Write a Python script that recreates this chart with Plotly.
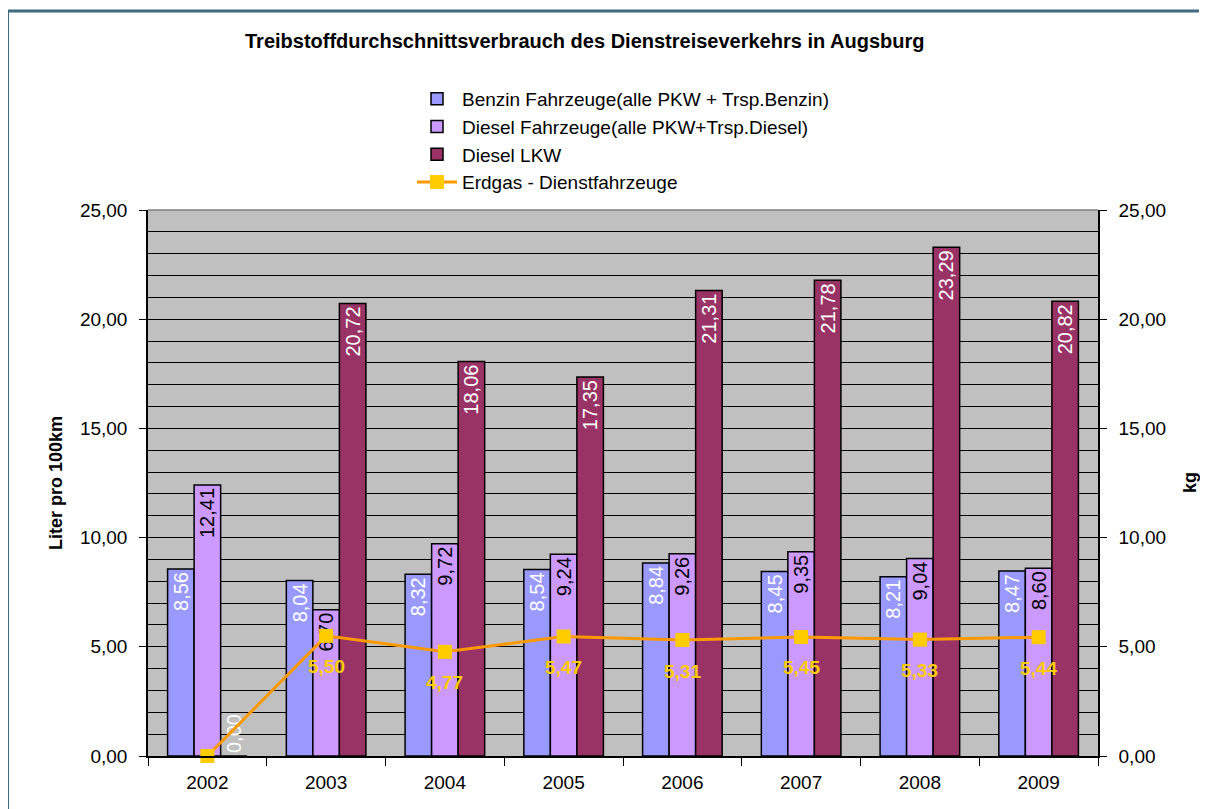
import plotly.graph_objects as go

years = ["2002", "2003", "2004", "2005", "2006", "2007", "2008", "2009"]
benzin = [8.56, 8.04, 8.32, 8.54, 8.84, 8.45, 8.21, 8.47]
diesel_pkw = [12.41, 6.70, 9.72, 9.24, 9.26, 9.35, 9.04, 8.60]
diesel_lkw = [0.00, 20.72, 18.06, 17.35, 21.31, 21.78, 23.29, 20.82]
erdgas = [0.00, 5.50, 4.77, 5.47, 5.31, 5.45, 5.33, 5.44]

names = ["Benzin Fahrzeuge(alle PKW + Trsp.Benzin)",
         "Diesel Fahrzeuge(alle PKW+Trsp.Diesel)",
         "Diesel LKW",
         "Erdgas - Dienstfahrzeuge"]

def fmt(v):
    return f"{v:.2f}".replace(".", ",")

FONT = "Liberation Sans, Arial, sans-serif"
OFF = 8  # body margin of the html page
W, H = 1208 - OFF, 809 - OFF
# plot area in page pixels
L, R, T, B = 148, 1098, 210, 756

def px(x):
    return (x - L) / (R - L)

def py(y):
    return (B - y) / (B - T)

BAR_TXT = 20

fig = go.Figure()

fig.add_trace(go.Bar(
    x=years, y=benzin, name=names[0],
    marker=dict(color="#9999FF", line=dict(color="black", width=1.5)),
    text=[fmt(v) for v in benzin], textposition="inside", insidetextanchor="end",
    textangle=-90, textfont=dict(color="white", size=BAR_TXT, family=FONT),
    constraintext="none",
))
fig.add_trace(go.Bar(
    x=years, y=diesel_pkw, name=names[1],
    marker=dict(color="#CC99FF", line=dict(color="black", width=1.5)),
    text=[fmt(v) for v in diesel_pkw], textposition="inside", insidetextanchor="end",
    textangle=-90, textfont=dict(color="black", size=BAR_TXT, family=FONT),
    constraintext="none",
))
fig.add_trace(go.Bar(
    x=years, y=diesel_lkw, name=names[2],
    marker=dict(color="#993366", line=dict(color="black", width=1.5)),
    text=[fmt(v) for v in diesel_lkw],
    textposition=["outside" if v == 0 else "inside" for v in diesel_lkw],
    insidetextanchor="end",
    textangle=-90, textfont=dict(color="white", size=BAR_TXT, family=FONT),
    outsidetextfont=dict(color="white", size=BAR_TXT, family=FONT),
    constraintext="none", cliponaxis=False,
))
fig.add_trace(go.Scatter(
    x=years, y=erdgas, name=names[3], yaxis="y2",
    mode="lines+markers",
    line=dict(color="#FF9900", width=3),
    marker=dict(color="#FFCC00", symbol="square", size=14),
    cliponaxis=False,
))

annotations = [
    dict(text="<b>Treibstoffdurchschnittsverbrauch des Dienstreiseverkehrs in Augsburg</b>",
         xref="paper", yref="paper", x=px(584), y=py(41), showarrow=False,
         font=dict(size=20, family=FONT), xanchor="center", yanchor="middle"),
    dict(text="<b>Liter pro 100km</b>", xref="paper", yref="paper",
         x=px(56), y=py(483), textangle=-90, showarrow=False,
         font=dict(size=18, family=FONT), xanchor="center", yanchor="middle"),
    dict(text="<b>kg</b>", xref="paper", yref="paper",
         x=px(1190), y=py(483), textangle=-90, showarrow=False,
         font=dict(size=18, family=FONT), xanchor="center", yanchor="middle"),
]
# Erdgas data labels below the markers (x = category index)
for i, v in enumerate(erdgas):
    if v == 0:
        continue
    annotations.append(dict(
        text=f"<b>{fmt(v)}</b>", x=i, y=v, xref="x", yref="y2",
        showarrow=False, yshift=-31, xanchor="center", yanchor="middle",
        font=dict(size=19, family=FONT, color="#FFCC00")))

fig.update_layout(
    width=W, height=H,
    margin=dict(l=L - OFF, r=W - (R - OFF), t=T - OFF, b=H - (B - OFF), pad=0),
    paper_bgcolor="white", plot_bgcolor="#C0C0C0",
    barmode="group", bargap=0.33, bargroupgap=0,
    separators=",.",
    font=dict(family=FONT, size=19, color="black"),
    showlegend=True,
    legend=dict(x=px(412), y=py(80), xanchor="left", yanchor="top",
                bgcolor="rgba(0,0,0,0)", font=dict(size=19, family=FONT),
                traceorder="normal", tracegroupgap=0, itemwidth=40),
    xaxis=dict(type="category", showline=True, linecolor="black", linewidth=1.5,
               ticks="outside", ticklen=8, tickcolor="black", tickson="boundaries",
               tickfont=dict(size=19), showgrid=False, mirror=False,
               ticklabelstandoff=8),
    yaxis=dict(range=[0, 25], dtick=5, tickformat=".2f", showline=True,
               linecolor="black", linewidth=1.5, ticks="outside", ticklen=7,
               tickcolor="black", tickfont=dict(size=19),
               showgrid=True, gridcolor="black", gridwidth=1,
               minor=dict(dtick=1, showgrid=True, gridcolor="black", gridwidth=1),
               zeroline=False, ticklabelstandoff=8),
    yaxis2=dict(range=[0, 25], dtick=5, tickformat=".2f", overlaying="y", side="right",
                showline=True, linecolor="black", linewidth=1.5, ticks="outside",
                ticklen=7, tickcolor="black", tickfont=dict(size=19),
                showgrid=False, zeroline=False, ticklabelstandoff=8),
    annotations=annotations,
    shapes=[
        dict(type="line", xref="paper", yref="paper", x0=px(6), x1=px(1199),
             y0=py(11), y1=py(11), line=dict(color="#41697F", width=3)),
        dict(type="line", xref="paper", yref="paper", x0=px(7.5), x1=px(7.5),
             y0=py(10), y1=py(830), line=dict(color="#41697F", width=3)),
        dict(type="line", xref="paper", yref="paper", x0=0, x1=1,
             y0=1, y1=1, line=dict(color="#808080", width=1.5)),
    ],
)

fig.write_html("out.html")
